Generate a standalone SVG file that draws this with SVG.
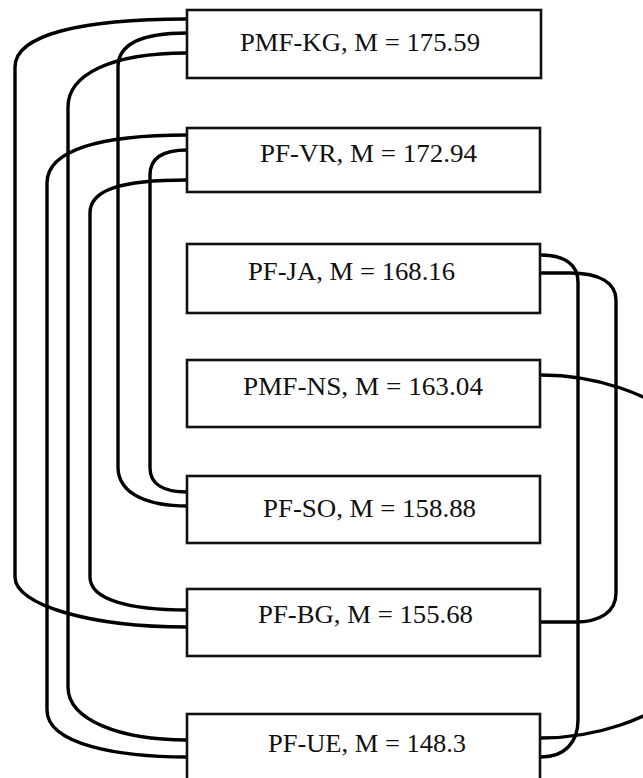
<svg xmlns="http://www.w3.org/2000/svg" width="643" height="778" viewBox="0 0 643 778">
<style>
.box{fill:#fff;stroke:#111;stroke-width:2.6}
.lbl{font-family:"Liberation Serif","Times New Roman",serif;font-size:25px;fill:#111}
.conn path{fill:none;stroke:#000;stroke-width:3.4}
</style>
<rect width="643" height="778" fill="#fff"/>
<g id="connectors" class="conn">
<path d="M187,19 C80,19 15,35 15,67 L15,577 C15,605 90,627 187,627"/>
<path d="M187,33 C140,33 118,45 118,67 L118,467 C118,495 150,506 187,506"/>
<path d="M187,53 C110,53 68,75 68,107 L68,687 C68,720 120,740 187,740"/>
<path d="M187,135 C100,135 47,150 47,183 L47,710 C47,745 120,757 187,757"/>
<path d="M187,150 C160,150 150,160 150,175 L150,468 C150,485 165,492 187,492"/>
<path d="M187,180 C120,180 90,190 90,213 L90,577 C90,600 130,610 187,610"/>
<path d="M541,255 C565,255 578,265 578,282 L578,720 C578,742 565,757 541,757"/>
<path d="M541,273 L570,273 C600,273 616,283 616,300 L616,593 C616,612 600,622 575,622 L541,622"/>
<path d="M541,375 A214,181.5 0 0 1 541,738"/>
</g>
<g id="n1"><rect class="box" x="187" y="10" width="354" height="68"/><text class="lbl" x="240" y="51" textLength="240" lengthAdjust="spacingAndGlyphs">PMF-KG, M = 175.59</text></g>
<g id="n2"><rect class="box" x="187" y="128" width="353" height="64"/><text class="lbl" x="260" y="162" textLength="217" lengthAdjust="spacingAndGlyphs">PF-VR, M = 172.94</text></g>
<g id="n3"><rect class="box" x="187" y="244" width="353" height="69"/><text class="lbl" x="248" y="280" textLength="207" lengthAdjust="spacingAndGlyphs">PF-JA, M = 168.16</text></g>
<g id="n4"><rect class="box" x="187" y="360" width="353" height="67"/><text class="lbl" x="243" y="395" textLength="240" lengthAdjust="spacingAndGlyphs">PMF-NS, M = 163.04</text></g>
<g id="n5"><rect class="box" x="187" y="476" width="353" height="67"/><text class="lbl" x="263" y="517" textLength="213" lengthAdjust="spacingAndGlyphs">PF-SO, M = 158.88</text></g>
<g id="n6"><rect class="box" x="187" y="589" width="353" height="67"/><text class="lbl" x="258" y="623" textLength="215" lengthAdjust="spacingAndGlyphs">PF-BG, M = 155.68</text></g>
<g id="n7"><rect class="box" x="187" y="714" width="353" height="68"/><text class="lbl" x="268" y="752" textLength="198" lengthAdjust="spacingAndGlyphs">PF-UE, M = 148.3</text></g>
</svg>
